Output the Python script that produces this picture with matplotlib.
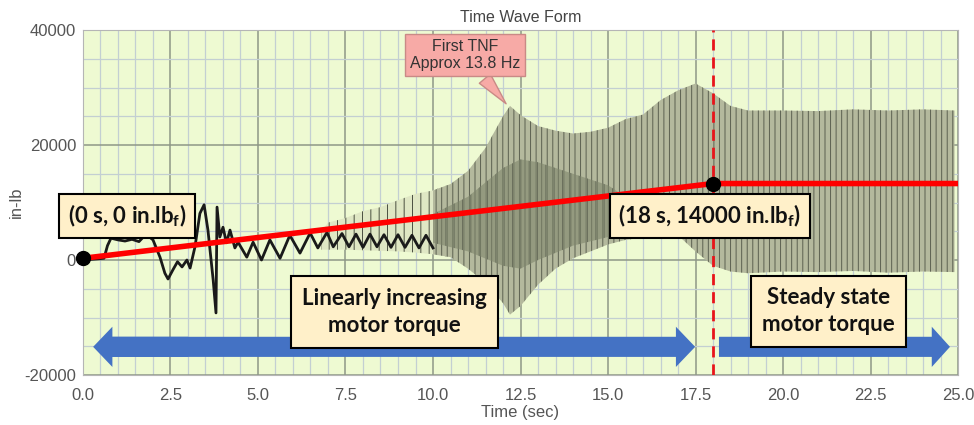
import matplotlib
matplotlib.use("Agg")
import matplotlib.pyplot as plt
import numpy as np
from matplotlib.patches import FancyArrow

plt.rcParams['font.family'] = ['Liberation Sans', 'DejaVu Sans']
plt.rcParams['mathtext.default'] = 'regular'
plt.rcParams['hatch.linewidth'] = 0.7

########## Data

## Low frequency part of the torque signal (black trace), time in s, torque in in-lb
wave_t = [0.0, 0.6, 0.7, 0.8, 1.0, 1.2, 1.4, 1.6, 1.8, 2.0, 2.2, 2.34, 2.43, 2.57, 2.7,
          2.83, 2.97, 3.06, 3.2, 3.34, 3.46, 3.57, 3.72, 3.8, 3.83, 3.91, 4.0, 4.1, 4.2,
          4.34, 4.43, 4.68, 4.86, 5.1, 5.34, 5.63, 5.91, 6.2, 6.49, 6.71, 6.97, 7.15, 7.4,
          7.6, 7.8, 8.0, 8.2, 8.4, 8.6, 8.8, 9.0, 9.2, 9.4, 9.6, 9.8, 10.0]
wave_v = [0, 300, 2500, 3800, 3500, 3300, 3600, 3200, 4500, 3500, 500, -2300, -3300, -1700, -300,
          -1200, 0, -1400, 2300, 8100, 9600, 5200, -3500, -9200, 9200, 4000, 5700, 3000, 5200,
          2100, 3100, 500, 3100, 0, 3500, 300, 4300, 1200, 4700, 2100, 4800, 2300, 4600,
          2300, 4500, 2200, 4500, 2300, 4400, 2200, 4400, 2200, 4300, 2100, 4300, 2100]

## Envelope of the fast oscillation, sparse spikes first
sparse_t = [6.8, 7.0, 7.5, 8.0, 8.5, 9.0, 9.5, 10.0, 10.5]
sparse_up = [4800, 6500, 7300, 8500, 9200, 10400, 11500, 12100, 13200]
sparse_lo = [1800, 1800, 1800, 1700, 1600, 1500, 1300, 1000, 500]

env_t = [10.0, 10.5, 11.0, 11.5, 12.0, 12.2, 12.5, 13.0,
         13.5, 14.0, 14.5, 15.0, 15.5, 16.0, 16.5, 17.0, 17.5, 18.0, 18.5, 19.0, 20.0, 21.0,
         22.0, 23.0, 24.0, 24.9]
env_up = [12100, 13200, 15500, 19500, 25000, 26800, 25200, 23300,
          22500, 22000, 22300, 23000, 24500, 25300, 27800, 29500, 30700, 29000, 26800, 26000, 26000, 25900,
          26200, 26000, 26200, 26000]
env_lo = [1000, 500, -1500, -4000, -7500, -9500, -8000, -4300,
          -1500, 300, 1500, 2700, 3500, 3900, 4300, 4300, 1500, -1000, -2000, -2300, -2000, -2100,
          -1900, -2200, -2000, -2100]

## Denser (darker) core of the oscillation
core_t = [10.0, 11.0, 12.0, 12.5, 13.0, 14.0, 15.0, 15.5]
core_up = [8000, 11000, 16000, 17500, 17000, 15000, 13000, 11000]
core_lo = [3000, 1500, -1000, -1500, 0, 2500, 4000, 4500]

## Motor torque ramp (red line)
ramp_t = [0.0, 18.0, 25.0]
ramp_v = [300, 13300, 13300]

x_ticks = [0.0, 2.5, 5.0, 7.5, 10.0, 12.5, 15.0, 17.5, 20.0, 22.5, 25.0]
y_ticks = [-20000, 0, 20000, 40000]

########## Plot

fig = plt.figure(figsize=(9.74, 4.25), dpi=100)
ax = fig.add_axes([0.0852, 0.1176, 0.8984, 0.8118])
ax.set_facecolor('#eefad2')

ax.set_xlim(0, 25)
ax.set_ylim(-20000, 40000)
ax.set_xticks(x_ticks)
ax.set_xticklabels([f"{v:.1f}" for v in x_ticks])
ax.set_xticks(np.arange(0, 25.01, 0.5), minor=True)
ax.set_yticks(y_ticks)
ax.set_yticklabels([str(v) for v in y_ticks])
ax.set_yticks(np.arange(-20000, 40001, 5000), minor=True)
ax.grid(which='minor', color='#c3cfd2', lw=0.9)
ax.grid(which='major', color='#8e9787', lw=1.1)
ax.set_axisbelow(True)
ax.tick_params(which='both', length=0, labelsize=12, labelcolor='#555555')
ax.tick_params(axis='x', pad=9)
ax.tick_params(axis='y', pad=5)
for s in ax.spines.values():
    s.set_color('#b5b5b5')
    s.set_linewidth(0.8)

ax.set_title("Time Wave Form", fontsize=11.5, color='#444444', pad=6)
ax.set_xlabel("Time (sec)", fontsize=12, color='#555555', labelpad=2)
ax.set_ylabel("in-lb", fontsize=12, color='#555555', labelpad=0)

## Torque signal
ax.fill_between(sparse_t, sparse_lo, sparse_up, facecolor='#dfe7c4', edgecolor='#4a4f40',
                hatch='||', linewidth=0, zorder=2)
ax.fill_between(env_t, env_lo, env_up, facecolor='#b4b99d', edgecolor='#5b6050',
                hatch='|||', linewidth=0, zorder=2)
ax.fill_between(core_t, core_lo, core_up, facecolor='#7f866c', edgecolor='#4e5345',
                hatch='||', linewidth=0, alpha=0.6, zorder=2)
ax.plot(wave_t, wave_v, color='#1a1a1a', lw=2.0, zorder=3)

## Ramp and steady state
ax.plot(ramp_t, ramp_v, color='#ff0000', lw=4, zorder=5, solid_capstyle='butt')
ax.axvline(18, color='#e8141a', lw=2, ls=(0, (4, 2.5)), zorder=5)
ax.plot([ramp_t[0], ramp_t[1]], [ramp_v[0], ramp_v[1]], 'o', color='black', ms=10, zorder=6, clip_on=False)

## Blue arrows
blue = '#4472c4'
ax.add_patch(FancyArrow(0.7, -15100, 16.79, 0, width=3500, head_width=7000, head_length=0.55,
                        length_includes_head=True, fc=blue, ec='none', zorder=6))
ax.add_patch(FancyArrow(3.0, -15100, -2.71, 0, width=3500, head_width=7000, head_length=0.55,
                        length_includes_head=True, fc=blue, ec='none', zorder=6))
ax.add_patch(FancyArrow(18.17, -15100, 6.6, 0, width=3500, head_width=7000, head_length=0.52,
                        length_includes_head=True, fc=blue, ec='none', zorder=6))

## Text boxes
box = dict(boxstyle='square,pad=0.38', fc='#fff0c9', ec='black', lw=1.5)
tfont = dict(family=['Lato', 'DejaVu Sans'], fontweight='bold', fontsize=16, color='#111111',
             ha='center', va='center', zorder=8)
ax.text(1.26, 7650, "(0 s, 0 in.lb$_f$)", bbox=box, **tfont)
ax.text(17.91, 7650, "(18 s, 14000 in.lb$_f$)", bbox=box, **tfont)
ax.text(8.91, -9040, "Linearly increasing\nmotor torque", bbox=dict(box, boxstyle='square,pad=0.5'),
        linespacing=1.4, **tfont)
ax.text(21.31, -8870, "Steady state\nmotor torque", bbox=dict(box, boxstyle='square,pad=0.5'),
        linespacing=1.4, **tfont)

## TNF callout
ax.annotate("First TNF\nApprox 13.8 Hz", xy=(12.14, 26800), xytext=(10.91, 35650),
            ha='center', va='center', fontsize=11.5, color='#333333', zorder=9,
            bbox=dict(boxstyle='square,pad=0.3', fc='#f7aaa6', ec='#c98a86', lw=1),
            arrowprops=dict(arrowstyle='wedge,tail_width=0.9,shrink_factor=0.5',
                            fc='#f7aaa6', ec='#c98a86', lw=1))

fig.savefig("out.png", dpi=100, facecolor='white')
